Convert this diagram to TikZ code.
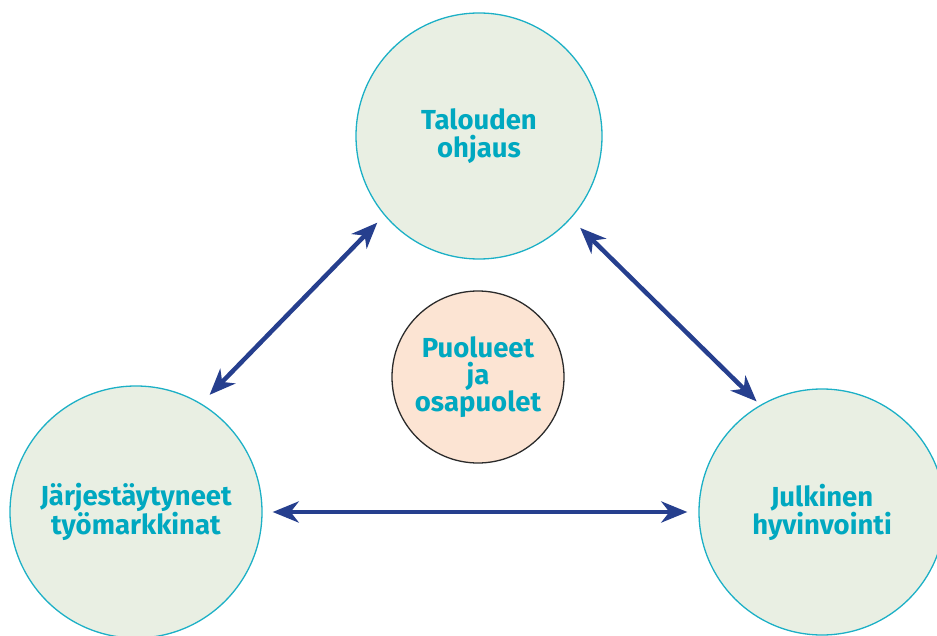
\documentclass[tikz,border=0pt]{standalone}
\usepackage{fontspec}
\setmainfont{Fira Sans}
\usetikzlibrary{arrows.meta}
\definecolor{circfill}{HTML}{E9EFE3}
\definecolor{circline}{HTML}{1CB0C6}
\definecolor{txt}{HTML}{00A8C0}
\definecolor{arr}{HTML}{263F8E}
\definecolor{midfill}{HTML}{FCE4D3}
\definecolor{midline}{HTML}{2B2B2B}
\tikzset{
  bigcirc/.style={circle, draw=circline, line width=1.3pt, fill=circfill, inner sep=0pt,
    text=txt, font=\fontsize{27.5}{28}\selectfont\bfseries, align=center},
  midcirc/.style={circle, draw=midline, line width=1.3pt, fill=midfill, inner sep=0pt,
    text=txt, font=\fontsize{27.5}{27}\selectfont\bfseries, align=center},
  dblarrow/.style={draw=arr, line width=4.5pt, {Stealth[length=26pt,width=21pt,inset=8pt]}-{Stealth[length=26pt,width=21pt,inset=8pt]}}
}
\begin{document}
\begin{tikzpicture}[x=1pt,y=-1pt]
\useasboundingbox (0,0) rectangle (937,636);
\node[bigcirc, minimum size=246pt] (top) at (479,136) {Talouden\\ohjaus};
\node[bigcirc, minimum size=252pt] (left) at (136,512) {Järjestäytyneet\\työmarkkinat};
\node[bigcirc, minimum size=246pt] (right) at (822,512) {Julkinen\\hyvinvointi};
\node[midcirc, minimum size=172pt] (mid) at (478,377) {Puolueet\\ja\\osapuolet};
\draw[dblarrow, shorten <=12pt, shorten >=10pt] (left.59.5) -- (top.220.7);
\draw[dblarrow, shorten <=13pt, shorten >=5pt] (top.318) -- (right.120.4);
\draw[dblarrow, shorten <=10pt, shorten >=11pt] (left.0) -- (right.180);
\end{tikzpicture}
\end{document}
